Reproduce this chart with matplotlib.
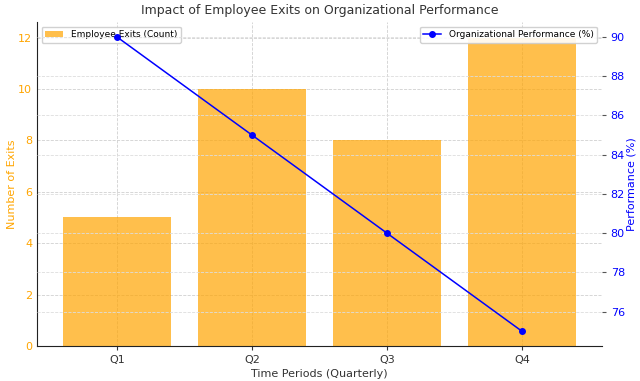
import matplotlib
matplotlib.use("Agg")
import matplotlib.pyplot as plt

quarters = ["Q1", "Q2", "Q3", "Q4"]
exits = [5, 10, 8, 12]
performance = [90, 85, 80, 75]

fig, ax1 = plt.subplots(figsize=(6.4, 3.81), dpi=100)
ax1.bar(quarters, exits, color="#FFA500", alpha=0.7, label="Employee Exits (Count)", width=0.8)
ax1.set_xlabel("Time Periods (Quarterly)", color="#333333", fontsize=8, labelpad=3)
ax1.set_ylabel("Number of Exits", color="orange", fontsize=8, labelpad=1)
ax1.tick_params(axis="y", labelcolor="orange", colors="orange", labelsize=8, length=0)
ax1.tick_params(axis="x", labelsize=8, colors="#333333", length=3)
ax1.grid(True, linestyle="--", color="#d0d0d0", linewidth=0.6)
ax1.set_axisbelow(True)
for s in ["top", "right"]:
    ax1.spines[s].set_visible(False)
ax1.spines["left"].set_color("#222222")
ax1.spines["bottom"].set_color("#222222")

ax2 = ax1.twinx()
ax2.plot(quarters, performance, color="blue", marker="o", markersize=4, linewidth=1.1,
         label="Organizational Performance (%)")
ax2.set_ylabel("Performance (%)", color="blue", fontsize=8, labelpad=1)
ax2.tick_params(axis="y", labelcolor="blue", labelsize=8, color="#555555", length=3)
ax2.grid(True, axis="y", linestyle="--", color="#dddddd", linewidth=0.6)
for s in ["top", "right", "left", "bottom"]:
    ax2.spines[s].set_visible(False)

ax1.set_title("Impact of Employee Exits on Organizational Performance", color="#333333", fontsize=9)
ax1.legend(loc="upper left", fontsize=6.5, framealpha=0.9, edgecolor="#cccccc")
ax2.legend(loc="upper right", fontsize=6.5, framealpha=0.9, edgecolor="#cccccc")

fig.subplots_adjust(left=0.058, right=0.94, top=0.942, bottom=0.092)
fig.savefig("out.png", dpi=100)
